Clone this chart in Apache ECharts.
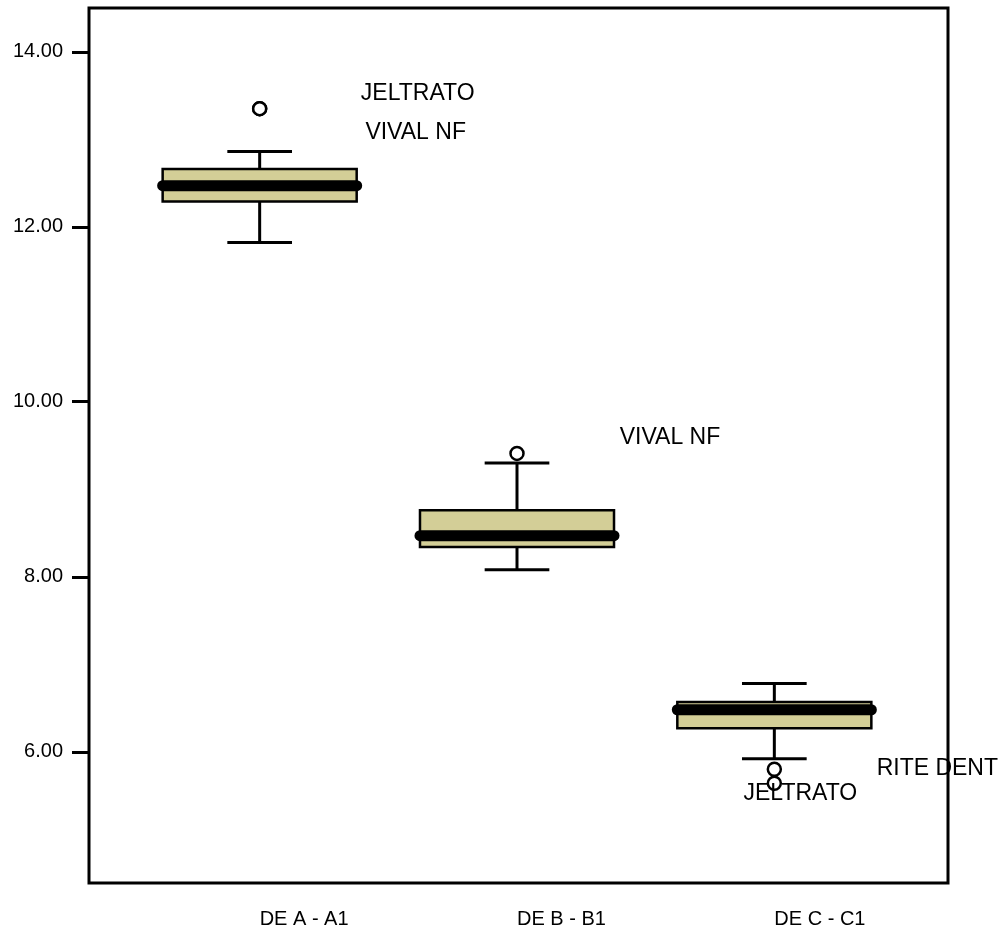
<!DOCTYPE html>
<html>
<head>
<meta charset="utf-8">
<script src="https://cdn.jsdelivr.net/npm/echarts@6/dist/echarts.min.js"></script>
<style>
  html, body { margin: 0; padding: 0; background: #fff; }
  #chart { width: 1003px; height: 935px; }
</style>
</head>
<body>
<div id="chart"></div>
<script>
// box summaries
const categories = ['DE A - A1', 'DE B - B1', 'DE C - C1'];
const whiskerLow = [11.82, 8.08, 5.92];
const q1 = [12.29, 8.34, 6.27];
const median = [12.47, 8.47, 6.48];
const q3 = [12.66, 8.76, 6.57];
const whiskerHigh = [12.86, 9.30, 6.78];

// outliers and their case labels
const outlierGroup = [0, 0, 1, 2, 2];
const outlierValue = [13.35, 13.35, 9.41, 5.80, 5.64];
const outlierName = ['JELTRATO', 'VIVAL NF', 'VIVAL NF', 'RITE DENT', 'JELTRATO'];

const yTicks = [6, 8, 10, 12, 14];

// where each case label sits relative to its point
const labelOffsets = [[158, -15], [156, 24], [153, -16], [163, -1], [26, 10]];

const font = 'Arial, "Liberation Sans", sans-serif';
const boxColor = '#d3ce97';

const chart = echarts.init(document.getElementById('chart'));

const boxData = categories.map((c, i) => [i, whiskerLow[i], q1[i], median[i], q3[i], whiskerHigh[i]]);

const outlierData = outlierValue.map((v, i) => ({
  value: [outlierGroup[i], v],
  name: outlierName[i],
  label: { offset: labelOffsets[i] }
}));

function renderBox(params, api) {
  const x = api.value(0);
  const lo = api.coord([x, api.value(1)]);
  const b1 = api.coord([x, api.value(2)]);
  const md = api.coord([x, api.value(3)]);
  const b3 = api.coord([x, api.value(4)]);
  const hi = api.coord([x, api.value(5)]);
  const band = api.size([1, 0])[0];
  const half = band * 0.377;
  const cap = half / 3;
  const cx = md[0];
  const lineStyle = { stroke: '#000', lineWidth: 3 };
  return {
    type: 'group',
    children: [
      { type: 'line', shape: { x1: cx, y1: hi[1], x2: cx, y2: b3[1] }, style: lineStyle },
      { type: 'line', shape: { x1: cx, y1: b1[1], x2: cx, y2: lo[1] }, style: lineStyle },
      { type: 'line', shape: { x1: cx - cap, y1: hi[1], x2: cx + cap, y2: hi[1] }, style: lineStyle },
      { type: 'line', shape: { x1: cx - cap, y1: lo[1], x2: cx + cap, y2: lo[1] }, style: lineStyle },
      {
        type: 'rect',
        shape: { x: cx - half, y: b3[1], width: half * 2, height: b1[1] - b3[1] },
        style: { fill: boxColor, stroke: '#000', lineWidth: 2.5 }
      },
      {
        type: 'line',
        shape: { x1: cx - half, y1: md[1], x2: cx + half, y2: md[1] },
        style: { stroke: '#000', lineWidth: 11, lineCap: 'round' }
      }
    ]
  };
}

const options = {
  animation: false,
  grid: [
    // outer frame
    { left: 89, right: 55, top: 8, bottom: 52, show: true, borderColor: '#000', borderWidth: 3 },
    // inner band for the three boxes
    { left: 131, right: 100, top: 8, bottom: 52 }
  ],
  xAxis: [
    { type: 'value', gridIndex: 0, show: false, min: 0, max: 1 },
    {
      type: 'category',
      gridIndex: 1,
      data: categories,
      boundaryGap: true,
      axisLine: { show: false },
      axisTick: { alignWithLabel: true, length: 15, lineStyle: { color: '#000', width: 3 } },
      axisLabel: { color: '#000', fontSize: 20, fontFamily: font, align: 'left', margin: 26 }
    }
  ],
  yAxis: [
    {
      type: 'value',
      gridIndex: 0,
      min: 4.5,
      max: 14.5,
      splitLine: { show: false },
      axisLine: { show: false },
      axisTick: { show: true, customValues: yTicks, length: 17, lineStyle: { color: '#000', width: 3 } },
      axisLabel: {
        customValues: yTicks,
        color: '#000',
        fontSize: 20,
        fontFamily: font,
        margin: 26,
        formatter: v => v.toFixed(2)
      }
    },
    { type: 'value', gridIndex: 1, min: 4.5, max: 14.5, show: false }
  ],
  series: [
    {
      type: 'custom',
      xAxisIndex: 1,
      yAxisIndex: 1,
      renderItem: renderBox,
      encode: { x: 0, y: [1, 2, 3, 4, 5] },
      data: boxData
    },
    {
      type: 'scatter',
      xAxisIndex: 1,
      yAxisIndex: 1,
      symbol: 'circle',
      symbolSize: 13,
      itemStyle: { color: '#fff', borderColor: '#000', borderWidth: 2.5, opacity: 1 },
      label: {
        show: true,
        position: 'inside',
        formatter: '{b}',
        color: '#000',
        fontSize: 23,
        fontFamily: font
      },
      data: outlierData
    }
  ]
};

chart.setOption(options);
</script>
</body>
</html>
